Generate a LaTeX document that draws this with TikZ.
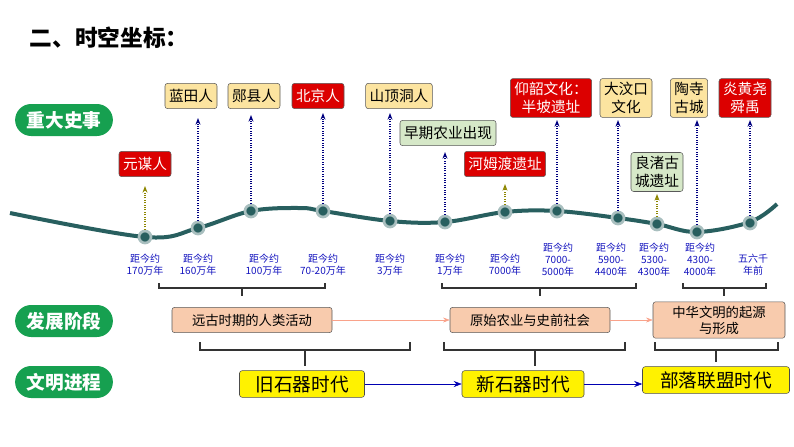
\documentclass[tikz,border=0pt]{standalone}
\usepackage{fontspec}
\setmainfont{Noto Sans CJK SC}
\usetikzlibrary{arrows.meta, positioning, shapes.misc}
\definecolor{badgegreen}{RGB}{22,160,80}
\definecolor{linegreen}{RGB}{40,95,95}
\definecolor{boxyellow}{RGB}{252,228,160}
\definecolor{boxred}{RGB}{220,0,0}
\definecolor{boxmint}{RGB}{214,232,200}
\definecolor{boxpink}{RGB}{248,203,173}
\definecolor{datablue}{RGB}{20,20,190}

\begin{document}
\begin{tikzpicture}[x=0.75pt, y=-0.75pt,
        badge/.style={rounded rectangle, fill=badgegreen, text=white, font=\fontsize{14}{14}\selectfont\bfseries, minimum width=80pt, minimum height=24pt},
        event/.style={draw=gray!70!black, rounded corners=2pt, font=\fontsize{11}{13}\selectfont, align=center, inner sep=3pt, minimum height=19pt},
        ybox/.style={event, fill=boxyellow},
        rbox/.style={event, fill=boxred, text=white},
        gbox/.style={event, fill=boxmint},
        pbox/.style={event, fill=boxpink, font=\fontsize{10}{12}\selectfont, minimum height=19pt},
        era/.style={draw=gray!60!black, fill=yellow, rounded corners=2pt, font=\fontsize{14}{14}\selectfont, minimum height=20pt, inner xsep=5pt},
        dot/.style={circle, fill=linegreen, draw=linegreen!40, line width=2pt, inner sep=0pt, minimum size=9pt},
        date/.style={text=datablue, font=\fontsize{7.5}{9}\selectfont, align=center},
        up/.style={densely dotted, thick, blue!50!black, -{Stealth[length=5pt, open]}},
        upg/.style={densely dotted, thick, olive, -{Stealth[length=5pt, open]}},
        brace/.style={thick, black!80}
    ]
    \useasboundingbox (0,0) rectangle (794,447);

    % title
    \node[anchor=west, font=\fontsize{17}{17}\selectfont\bfseries] (title) at (25,38) {二、时空坐标：};

    % badges
    \node[badge] (b1) at (64,120) {重大史事};
    \node[badge] (b2) at (64,321) {发展阶段};
    \node[badge] (b3) at (64,382) {文明进程};

    % the timeline
    \draw[linegreen, line width=3pt] plot[smooth, tension=0.6] coordinates {
        (10,213) (145,237) (198,228) (251,211) (300,208) (323,211) (390,221) (445,222)
        (505,212) (557,211) (618,218) (657,224) (697,232) (750,222) (777,204)};
    \foreach \x/\y/\n in {145/237/d1, 198/228/d2, 251/211/d3, 323/211/d4, 390/221/d5, 445/222/d6,
        505/212/d7, 557/211/d8, 618/218/d9, 657/224/d10, 697/232/d11, 750/223/d12}
        \node[dot] (\n) at (\x,\y) {};

    % events
    \node[rbox] (yuanmou) at (145,164) {元谋人};
    \node[ybox] (lantian) at (191,96) {蓝田人};
    \node[ybox] (yunxian) at (254,96) {郧县人};
    \node[rbox] (beijing) at (318,96) {北京人};
    \node[ybox] (shanding) at (399,96) {山顶洞人};
    \node[gbox] (nongye) at (448,133) {早期农业出现};
    \node[rbox] (hemudu) at (505,164) {河姆渡遗址};
    \node[rbox] (yangshao) at (551,98) {仰韶文化：\\半坡遗址};
    \node[ybox] (dawenkou) at (626,98) {大汶口\\文化};
    \node[ybox] (taosi) at (689,98) {陶寺\\古城};
    \node[rbox] (yanhuang) at (745,98) {炎黄尧\\舜禹};
    \node[gbox] (liangzhu) at (657,172) {良渚古\\城遗址};

    % dotted pointers
    \draw[upg] (d1) -- (d1 |- 0,186);
    \draw[up] (d2) -- (d2 |- 0,118);
    \draw[up] (d3) -- (d3 |- 0,115);
    \draw[up] (d4) -- (d4 |- 0,113);
    \draw[up] (d5) -- (d5 |- 0,113);
    \draw[up] (d6) -- (d6 |- 0,152);
    \draw[upg] (d7) -- (d7 |- 0,184);
    \draw[up] (d8) -- (d8 |- 0,120);
    \draw[up] (d9) -- (d9 |- 0,120);
    \draw[upg] (d10) -- (d10 |- 0,194);
    \draw[up] (d11) -- (d11 |- 0,120);
    \draw[up] (d12) -- (d12 |- 0,120);

    % dates
    \foreach \x/\y/\t in {145/265/{距今约\\170万年}, 198/265/{距今约\\160万年}, 264/265/{距今约\\100万年},
        323/265/{距今约\\70-20万年}, 390/265/{距今约\\3万年}, 450/265/{距今约\\1万年},
        505/265/{距今约\\7000年}, 558/260/{距今约\\7000-\\5000年}, 611/260/{距今约\\5900-\\4400年},
        654/260/{距今约\\5300-\\4300年}, 700/260/{距今约\\4300-\\4000年}, 753/265/{五六千\\年前}}
        \node[date] at (\x,\y) {\t};

    % upper braces
    \draw[brace] (159,283) -- (159,288) -- (325,288) -- (325,283) (242,288) -- (242,296);
    \draw[brace] (442,283) -- (442,288) -- (636,288) -- (636,283) (540,288) -- (540,296);
    \draw[brace] (683,283) -- (683,288) -- (766,288) -- (766,283) (724,288) -- (724,296);

    % stages
    \node[pbox, minimum width=160*0.75pt] (stage1) at (252,320) {远古时期的人类活动};
    \node[pbox, minimum width=160*0.75pt] (stage2) at (530,320) {原始农业与史前社会};
    \node[pbox, minimum width=132*0.75pt] (stage3) at (719,320) {中华文明的起源\\与形成};
    \draw[boxpink!80!red, -{Stealth[length=5pt]}] (stage1) -- (stage2);
    \draw[boxpink!80!red, -{Stealth[length=5pt]}] (stage2) -- (stage3);

    % lower braces
    \draw[brace] (200,342) -- (200,350) -- (410,350) -- (410,342) (305,350) -- (305,366);
    \draw[brace] (444,342) -- (444,350) -- (625,350) -- (625,342) (535,350) -- (535,366);
    \draw[brace] (655,342) -- (655,350) -- (778,350) -- (778,342) (716,350) -- (716,362);

    % eras
    \node[era, minimum width=125*0.75pt] (era1) at (302,384) {旧石器时代};
    \node[era, minimum width=122*0.75pt] (era2) at (523,384) {新石器时代};
    \node[era, minimum width=147*0.75pt] (era3) at (716,380) {部落联盟时代};
    \draw[blue!70!black, -{Stealth[length=6pt]}] (era1) -- (era2);
    \draw[blue!70!black, -{Stealth[length=6pt]}] (era2.east) -- (era2.east -| era3.west);
\end{tikzpicture}
\end{document}
